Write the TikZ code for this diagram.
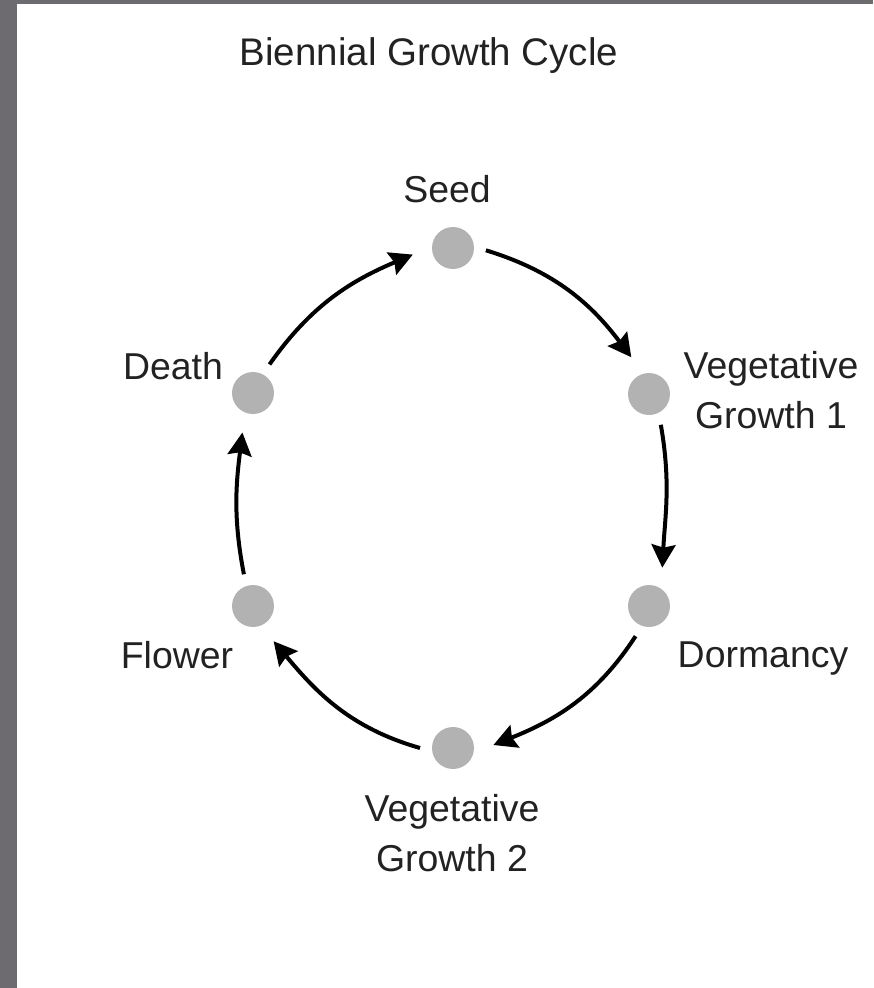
\documentclass[tikz,border=0pt]{standalone}
\usepackage{fontspec}
\setmainfont{Liberation Sans}
\usepackage{tikz}
\usetikzlibrary{arrows.meta}

\definecolor{frame}{HTML}{6D6A70}
\definecolor{dot}{HTML}{B2B2B2}
\definecolor{ink}{HTML}{222222}

\tikzset{
	stage/.style={circle,fill=dot,minimum size=0.84cm,inner sep=0pt,outer sep=0.24cm},
	lbl/.style={text=ink,font=\fontsize{21.3}{27.9}\selectfont,align=center,inner sep=0pt},
	flow/.style={-{Stealth[length=0.46cm,width=0.48cm,inset=0.06cm]},line width=0.08cm,shorten >=0.16cm}
}

\begin{document}
\begin{tikzpicture}[x=0.02cm,y=-0.02cm]
	\useasboundingbox (0,0) rectangle (873,988);
	%grey frame on the left and top
	\fill[frame] (0,0) rectangle (17,988);
	\fill[frame] (0,0) rectangle (873,4);

	%title
	\node[lbl,anchor=base,font=\fontsize{21.9}{27.9}\selectfont] (title) at (429,65) {Biennial Growth Cycle};

	%stages
	\node[stage] (seed)  at (453,248) {};
	\node[stage] (veg1)  at (649,394) {};
	\node[stage] (dorm)  at (649,606) {};
	\node[stage] (veg2)  at (453,748) {};
	\node[stage] (flow)  at (253,606) {};
	\node[stage] (death) at (253,393) {};

	%labels (two-line ones sit on their last baseline)
	\node[lbl,anchor=base] (seedlbl)  at (447,202) {Seed};
	\node[lbl,anchor=base] (veg1lbl)  at (771,428) {Vegetative\\Growth 1};
	\node[lbl,anchor=base] (dormlbl)  at (763,667) {Dormancy};
	\node[lbl,anchor=base] (veg2lbl)  at (452,871) {Vegetative\\Growth 2};
	\node[lbl,anchor=base] (flowlbl)  at (177,668) {Flower};
	\node[lbl,anchor=base] (deathlbl) at (173,379) {Death};

	%arrows round the cycle
	\draw[flow] (seed.356)  to[out=-17,in=127] (veg1.113);	%seed -> growth 1
	\draw[flow] (veg1.291)  to[out=-80,in=87]  (dorm.67);	%growth 1 -> dormancy
	\draw[flow] (dorm.246)  to[out=237,in=22]  (veg2.0);	%dormancy -> growth 2
	\draw[flow] (veg2.180)  to[out=164,in=310] (flow.298);	%growth 2 -> flower
	\draw[flow] (flow.106)  to[out=101,in=263] (death.253);	%flower -> death
	\draw[flow] (death.60)  to[out=55,in=203]  (seed.186);	%death -> seed
\end{tikzpicture}
\end{document}
